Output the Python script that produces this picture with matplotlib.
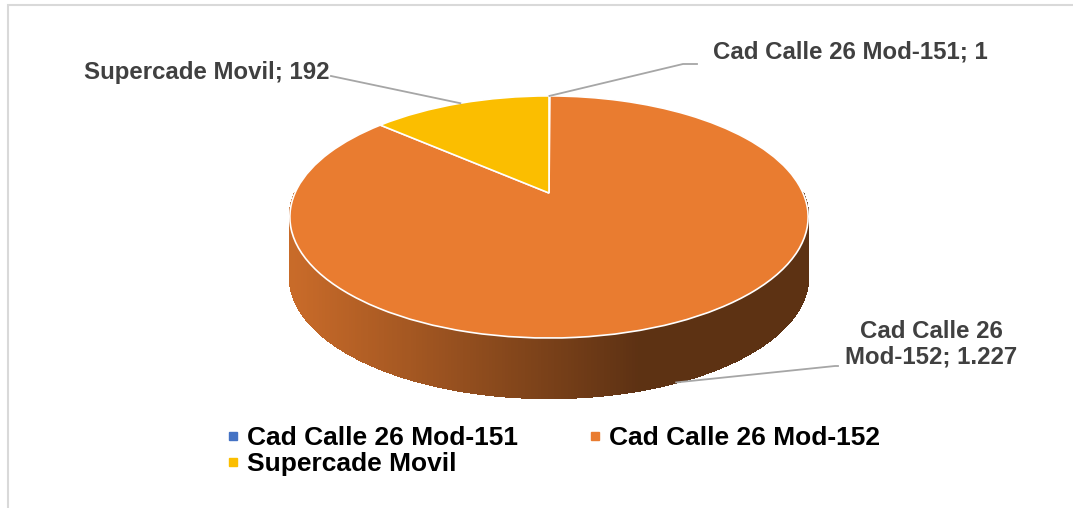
import numpy as np
import matplotlib
matplotlib.use("Agg")
import matplotlib.pyplot as plt
from matplotlib.collections import PolyCollection
from matplotlib.lines import Line2D
from matplotlib.patches import Rectangle
from matplotlib.colors import to_rgb
from matplotlib.transforms import Transform

labels = ["Cad Calle 26 Mod-151", "Cad Calle 26 Mod-152", "Supercade Movil"]
values = [1, 1227, 192]
value_text = ["1", "1.227", "192"]
colors = ["#4472C4", "#E97C30", "#FBBE00"]

W, H = 1073, 508
plt.rcParams["font.family"] = ["Liberation Sans", "DejaVu Sans"]

# perspective of the pie top (pixels, y down): centre, half width, half height, tilt
cx, cy, A, B, k = 549, 193, 254, 116.3, 0.198
depth = 60


class Tilt(Transform):
    """Unit-circle pie plane -> screen pixels, with a little perspective."""
    input_dims = output_dims = 2

    def transform_non_affine(self, values):
        xy = np.asarray(values, dtype=float)
        u, v = xy[:, 0], xy[:, 1]
        d = 1 + k * v
        return np.column_stack([cx + A * u / d, cy - B * v / d])


tilt = Tilt()

fig = plt.figure(figsize=(W / 100, H / 100), dpi=100)
ax = fig.add_axes([0, 0, 1, 1])

wedges, _ = ax.pie(values, colors=colors, startangle=90, counterclock=False,
                   wedgeprops=dict(edgecolor="white", linewidth=1.2))
for w in wedges:
    w.set_transform(tilt + ax.transData)
    w.set_zorder(3)

# side of the 3D pie (front half), shaded from left to right
theta = np.linspace(180, 360, 301)
polys, fcols = [], []
for t0, t1 in zip(theta[:-1], theta[1:]):
    tm = (t0 + t1) / 2
    idx = 0
    for i, w in enumerate(wedges):
        if (tm - w.theta1) % 360 <= (w.theta2 - w.theta1):
            idx = i
    a = np.radians([t0, t1])
    (x0, y0), (x1, y1) = tilt.transform(np.column_stack([np.cos(a), np.sin(a)]))
    polys.append([(x0, y0), (x1, y1), (x1, y1 + depth), (x0, y0 + depth)])
    f = np.interp((x0 + x1) / 2, [cx - A, 640], [0.86, 0.40])
    fcols.append(np.array(to_rgb(colors[idx])) * f)
side = PolyCollection(polys, facecolors=fcols, edgecolors=fcols, linewidths=1.0,
                      antialiaseds=False, zorder=2)
ax.add_collection(side)

ax.set_xlim(0, W)
ax.set_ylim(H, 0)
ax.set_aspect("auto")
ax.axis("off")


def edge_point(w, drop=0.0):
    a = np.radians((w.theta1 + w.theta2) / 2)
    x, y = tilt.transform(np.array([[np.cos(a), np.sin(a)]]))[0]
    return x, y + drop


line_kw = dict(color="#A6A6A6", lw=1.3, zorder=4)
txt_kw = dict(color="#404040", fontsize=17.3, fontweight="bold", zorder=5)

# Cad Calle 26 Mod-151
p0 = edge_point(wedges[0])
pts = [p0, (683, 64), (697, 64)]
ax.plot([p[0] for p in pts], [p[1] for p in pts], **line_kw)
ax.text(713, 52, f"{labels[0]}; {value_text[0]}", ha="left", va="center", **txt_kw)

# Cad Calle 26 Mod-152
p1 = edge_point(wedges[1], drop=depth)
pts = [p1, (835, 366), (838, 366)]
ax.plot([p[0] for p in pts], [p[1] for p in pts], **line_kw)
ax.text(931, 344, f"{labels[1]}; {value_text[1]}".replace(" Mod", "\nMod"),
        ha="center", va="center", linespacing=1.12, **txt_kw)

# Supercade Movil
p2 = edge_point(wedges[2])
pts = [p2, (331, 76)]
ax.plot([p[0] for p in pts], [p[1] for p in pts], **line_kw)
ax.text(330, 72, f"{labels[2]}; {value_text[2]}", ha="right", va="center", **txt_kw)

# legend, filled row-wise like the original
order = [0, 2, 1]
handles = [Line2D([], [], marker="s", ls="", color=colors[i], markersize=5.5) for i in order]
fig.legend(handles, [labels[i] for i in order], ncol=2, loc="upper left",
           bbox_to_anchor=(226 / W, 1 - 426 / H), frameon=False,
           prop=dict(family="Liberation Sans", weight="bold", size=19),
           handlelength=0.5, handletextpad=0.3, columnspacing=2.65,
           labelspacing=0.08, borderpad=0, borderaxespad=0)

# chart frame
fig.patches.append(Rectangle((8 / W, -0.1), 1.2, (H - 5) / H + 0.1, transform=fig.transFigure,
                             fill=False, edgecolor="#D9D9D9", lw=1.5))

fig.savefig("out.png", dpi=100)
